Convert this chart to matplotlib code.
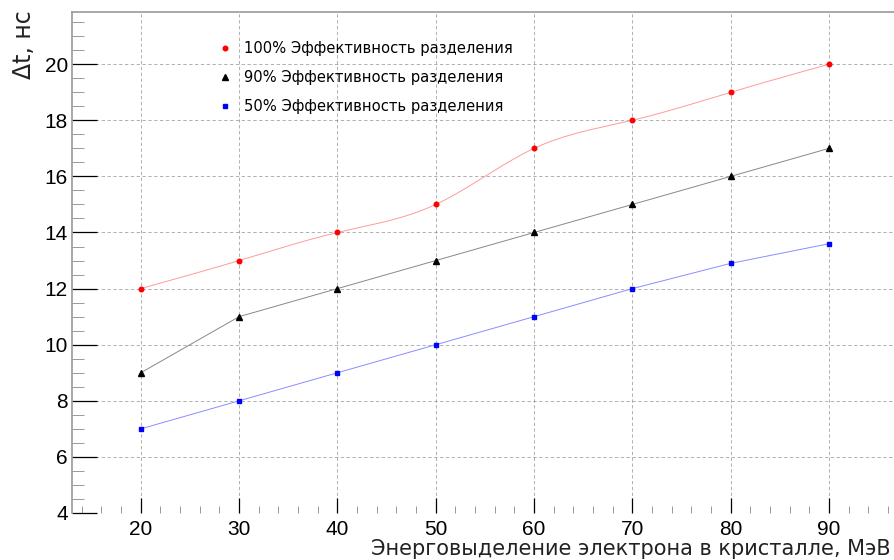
import numpy
import matplotlib
matplotlib.use("Agg")
import matplotlib.pyplot as plt
from matplotlib.ticker import MultipleLocator

energy = [20, 30, 40, 50, 60, 70, 80, 90]
dt_100 = [12, 13, 14, 15, 17, 18, 19, 20]
dt_90 = [9, 11, 12, 13, 14, 15, 16, 17]
dt_50 = [7, 8, 9, 10, 11, 12, 12.9, 13.6]
labels = ["100% Эффективность разделения",
          "90% Эффективность разделения",
          "50% Эффективность разделения"]


def smooth_curve(x, y, n=400):
	# natural cubic spline, like ROOT's "C" draw option
	x = numpy.asarray(x, dtype=float)
	y = numpy.asarray(y, dtype=float)
	h = numpy.diff(x)
	m = len(x)
	A = numpy.zeros((m, m))
	b = numpy.zeros(m)
	A[0, 0] = A[-1, -1] = 1
	for i in range(1, m - 1):
		A[i, i - 1] = h[i - 1]
		A[i, i] = 2 * (h[i - 1] + h[i])
		A[i, i + 1] = h[i]
		b[i] = 6 * ((y[i + 1] - y[i]) / h[i] - (y[i] - y[i - 1]) / h[i - 1])
	M = numpy.linalg.solve(A, b)
	xs = numpy.linspace(x[0], x[-1], n)
	idx = numpy.clip(numpy.searchsorted(x, xs) - 1, 0, m - 2)
	x0, x1 = x[idx], x[idx + 1]
	hh = x1 - x0
	ys = (M[idx] * (x1 - xs) ** 3 / (6 * hh) + M[idx + 1] * (xs - x0) ** 3 / (6 * hh)
		+ (y[idx] / hh - M[idx] * hh / 6) * (x1 - xs)
		+ (y[idx + 1] / hh - M[idx + 1] * hh / 6) * (xs - x0))
	return xs, ys


fig = plt.figure(figsize=(8.94, 5.6), dpi=100)
ax = fig.add_axes([72 / 894, 47 / 560, 822 / 894, 501 / 560])
ax.set_xlim(13, 96.6)
ax.set_ylim(4, 21.86)

ax.grid(True, which="major", color="#666666", linestyle=(0, (4, 3)), linewidth=0.6, alpha=0.6)
ax.set_axisbelow(True)

xs, ys = smooth_curve(energy, dt_100)
ax.plot(xs, ys, "-", color="#ff9a9a", linewidth=0.7)
ax.plot(energy, dt_100, "o", color="red", markersize=3.3, linestyle="none", label=labels[0])

ax.plot(energy, dt_90, "-", color="#888888", linewidth=0.7)
ax.plot(energy, dt_90, "^", color="black", markersize=3.8, linestyle="none", label=labels[1])

ax.plot(energy, dt_50, "-", color="#8c8cff", linewidth=0.7)
ax.plot(energy, dt_50, "s", color="blue", markersize=3.3, linestyle="none", label=labels[2])

ax.legend(loc="upper left", bbox_to_anchor=(0.161, 0.968), frameon=False,
	fontsize=10.6, handletextpad=0.8, labelspacing=0.94, handlelength=1.0)

ax.xaxis.set_major_locator(MultipleLocator(10))
ax.xaxis.set_minor_locator(MultipleLocator(2))
ax.yaxis.set_major_locator(MultipleLocator(2))
ax.yaxis.set_minor_locator(MultipleLocator(0.5))
ax.tick_params(axis="y", which="major", direction="in", length=18, width=0.9, labelsize=15, pad=3)
ax.tick_params(axis="y", which="minor", direction="in", length=8.5, width=0.7, color="#999999")
ax.tick_params(axis="x", which="major", direction="in", length=11, width=0.9, labelsize=15, pad=5)
ax.tick_params(axis="x", which="minor", direction="in", length=5, width=0.7, color="#999999")
for lab in ax.get_xticklabels() + ax.get_yticklabels():
	lab.set_fontfamily("Liberation Sans")

for side in ["bottom", "right"]:
	ax.spines[side].set_visible(False)
ax.spines["left"].set_color("#999999")
ax.spines["top"].set_color("#999999")
ax.spines["left"].set_linewidth(1.2)
ax.spines["top"].set_linewidth(1.2)

fig.text(891 / 894, 1 - 549 / 560, "Энерговыделение электрона в кристалле, МэВ",
	ha="right", va="center", fontsize=15, color="#222222")
fig.text(24 / 894, 1 - 10 / 560, "Δt, нс", rotation=90, ha="center", va="top",
	fontsize=17, color="#222222")

fig.savefig("out.png", dpi=100)
